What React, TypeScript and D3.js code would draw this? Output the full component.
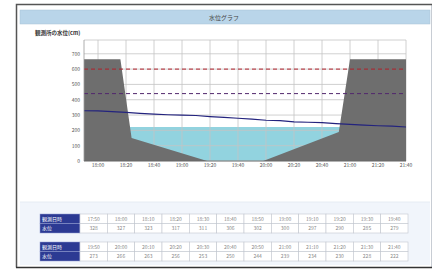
import React from "react";
import * as d3 from "d3";

// observed water level, every 10 min
const obsTimes = [
  "17:50", "18:00", "18:10", "18:20", "18:30", "18:40", "18:50", "19:00", "19:10", "19:20", "19:30", "19:40",
  "19:50", "20:00", "20:10", "20:20", "20:30", "20:40", "20:50", "21:00", "21:10", "21:20", "21:30", "21:40",
];
const levels = [
  328, 327, 323, 317, 311, 306, 302, 300, 297, 290, 285, 279,
  273, 266, 263, 256, 253, 250, 244, 239, 234, 230, 228, 222,
];

// cross-section of the channel (time, cm)
const terrainTimes = ["17:50", "18:16", "18:24", "19:18", "19:58", "20:52", "21:00", "21:40"];
const terrainLevels = [665, 665, 150, 0, 0, 190, 665, 665];

const warnLevel = 600; // red dashed
const cautionLevel = 440; // purple dashed
const yTicks = [0, 100, 200, 300, 400, 500, 600, 700];

const title = "水位グラフ";
const yTitle = "観測所の水位(cm)";
const rowHeads = ["観測日時", "水位"];

const font = "'Noto Sans CJK JP', 'Noto Sans', sans-serif";
const parse = d3.timeParse("%H:%M");

export default function App() {
  const W = 437, H = 270;
  const plot = { left: 84, right: 406, top: 40, bottom: 161 };

  const x = d3.scaleTime()
    .domain([parse("17:50")!, parse("21:40")!])
    .range([plot.left, plot.right]);
  const y = d3.scaleLinear().domain([0, 790]).range([plot.bottom, plot.top]);

  const xTicks = x.ticks(d3.timeMinute.every(20)!);
  const fmt = d3.timeFormat("%H:%M");

  const terrain = terrainTimes.map((t, i) => ({ t: parse(t)!, v: terrainLevels[i] }));
  const area = d3.area<{ t: Date; v: number }>()
    .x(d => x(d.t))
    .y0(y(0))
    .y1(d => y(d.v));

  const series = obsTimes.map((t, i) => ({ t: parse(t)!, v: levels[i] }));
  const line = d3.line<{ t: Date; v: number }>()
    .x(d => x(d.t))
    .y(d => y(d.v));

  const current = levels[levels.length - 1];

  // table
  const rows = [0, 1].map(r => ({
    times: obsTimes.slice(r * 12, r * 12 + 12),
    vals: levels.slice(r * 12, r * 12 + 12),
    top: r === 0 ? 214 : 242,
  }));
  const col = d3.scaleBand<number>().domain(d3.range(12)).range([80, 408]);
  const rowH = 9.5;

  return (
    <svg width={W} height={H} style={{ position: "absolute", left: 0, top: 0 }} fontFamily={font}>
      <rect width={W} height={H} fill="#fff" />
      {/* frame */}
      <rect x={16.5} y={4.5} width={415} height={263} fill="#fff" stroke="#c8cdd4" />
      <path d="M16.5,267.5 V4.5 H432" fill="none" stroke="#555" strokeWidth={1.5} />
      <line x1={16} x2={432} y1={267.5} y2={267.5} stroke="#333" strokeWidth={1.5} />
      {/* title bar */}
      <rect x={20} y={10} width={410} height={14} fill="#b9d5e9" stroke="#a9c3d6" strokeWidth={0.5} />
      <text x={224} y={19.5} fontSize={6} textAnchor="middle" fill="#444">{title}</text>
      {/* lower panel */}
      <rect x={20} y={202} width={410} height={63} fill="#f1f5fb" />
      <line x1={20} x2={430} y1={202} y2={202} stroke="#e6ecf3" />

      <text x={35} y={35} fontSize={5.5} fill="#333" fontWeight="bold">{yTitle}</text>

      {/* water body */}
      <rect x={plot.left} y={y(current)} width={plot.right - plot.left} height={y(0) - y(current)} fill="#92d3df" />

      {/* grid */}
      {yTicks.map(v => (
        <line key={"h" + v} x1={plot.left} x2={plot.right} y1={y(v)} y2={y(v)} stroke="#c4c4c4" strokeWidth={0.8} />
      ))}
      <line x1={plot.left} x2={plot.right} y1={plot.top} y2={plot.top} stroke="#c4c4c4" strokeWidth={0.8} />
      {xTicks.map(t => (
        <line key={"v" + t.getTime()} x1={x(t)} x2={x(t)} y1={plot.top} y2={plot.bottom} stroke="#c4c4c4" strokeWidth={0.8} />
      ))}

      {/* terrain */}
      <path d={area(terrain)!} fill="#6e6e6e" />

      {/* thresholds */}
      <line x1={plot.left} x2={plot.right} y1={y(warnLevel)} y2={y(warnLevel)} stroke="#b0202a" strokeWidth={1} strokeDasharray="4,3" />
      <line x1={plot.left} x2={plot.right} y1={y(cautionLevel)} y2={y(cautionLevel)} stroke="#52286e" strokeWidth={1} strokeDasharray="4,3" />

      {/* water level line */}
      <path d={line(series)!} fill="none" stroke="#23237e" strokeWidth={1.2} />

      {/* axes */}
      <line x1={plot.left} x2={plot.left} y1={plot.top} y2={plot.bottom} stroke="#999" strokeWidth={0.8} />
      <line x1={plot.left} x2={plot.right} y1={plot.bottom} y2={plot.bottom} stroke="#666" strokeWidth={0.8} />
      {yTicks.map(v => (
        <text key={"yl" + v} x={80} y={y(v) + 2} fontSize={5} textAnchor="end" fill="#555">{v}</text>
      ))}
      {xTicks.map(t => (
        <text key={"xl" + t.getTime()} x={x(t)} y={167} fontSize={5} textAnchor="middle" fill="#555">{fmt(t)}</text>
      ))}

      {/* tables */}
      {rows.map((r, ri) => (
        <g key={"t" + ri}>
          {rowHeads.map((h, hi) => (
            <g key={h}>
              <rect x={40} y={r.top + hi * rowH} width={40} height={rowH} fill="#2c3a93" stroke="#8f9bd0" strokeWidth={0.5} />
              <text x={42} y={r.top + hi * rowH + 6.5} fontSize={5} fill="#fff">{h}</text>
            </g>
          ))}
          {r.times.map((t, i) => (
            <g key={t}>
              <rect x={col(i)} y={r.top} width={col.bandwidth()} height={rowH} fill="#fff" stroke="#c2c7cf" strokeWidth={0.6} />
              <rect x={col(i)} y={r.top + rowH} width={col.bandwidth()} height={rowH} fill="#fff" stroke="#c2c7cf" strokeWidth={0.6} />
              <text x={col(i)! + col.bandwidth() / 2} y={r.top + 6.5} fontSize={5} textAnchor="middle" fill="#888">{t}</text>
              <text x={col(i)! + col.bandwidth() / 2} y={r.top + rowH + 6.5} fontSize={5} textAnchor="middle" fill="#888">{r.vals[i]}</text>
            </g>
          ))}
        </g>
      ))}
    </svg>
  );
}
